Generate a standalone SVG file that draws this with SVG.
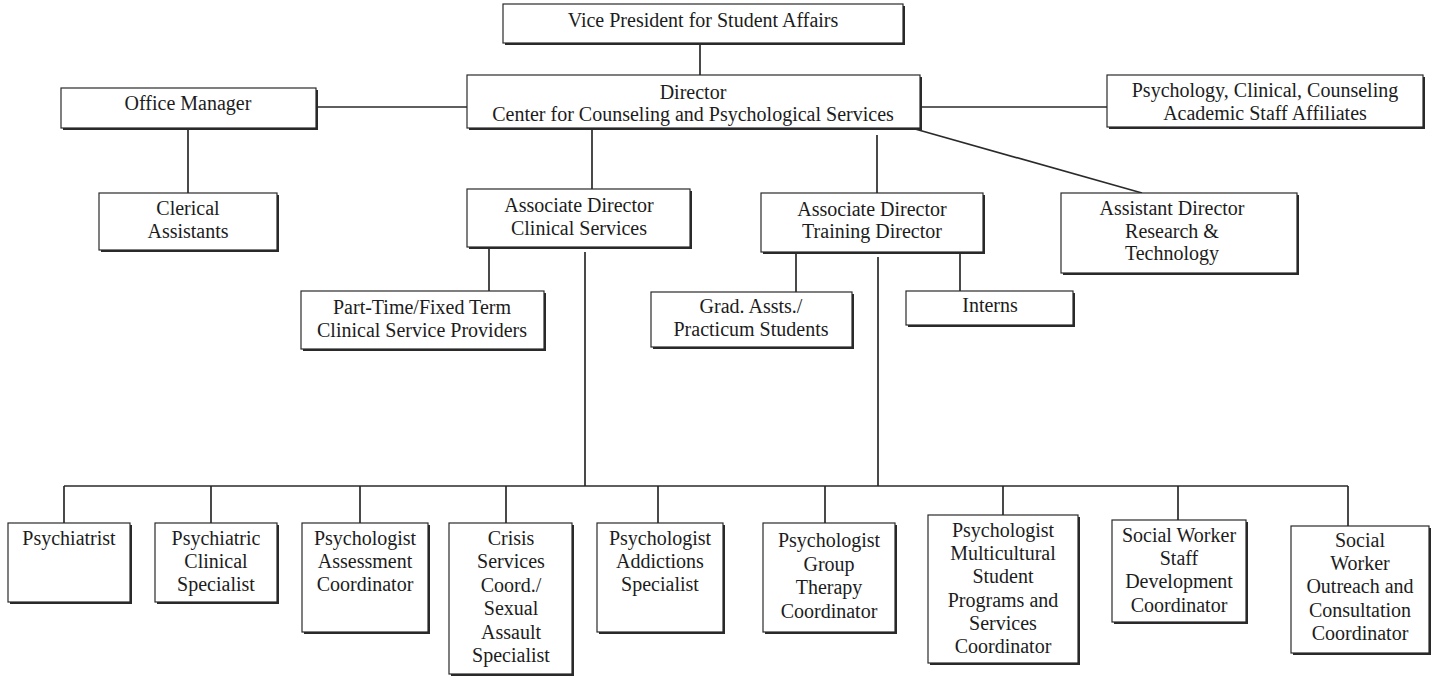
<svg xmlns="http://www.w3.org/2000/svg" width="1436" height="677" viewBox="0 0 1436 677" font-family="'Liberation Serif', 'DejaVu Serif', serif">
<style>
.bx{fill:#fff;stroke:#2a2a2a;stroke-width:1.2}
.sh{fill:#2a2a2a}
text{font-family:'Liberation Serif','DejaVu Serif',serif;font-size:20px;fill:#1c1c1c;text-anchor:middle}
.cn line{stroke:#2a2a2a;stroke-width:1.7;fill:none}
</style>
<rect width="1436" height="677" fill="#fff"/>
<g class="cn" id="connectors">
<line x1="700" y1="43" x2="700" y2="75"/>
<line x1="316" y1="107" x2="467" y2="107"/>
<line x1="920" y1="107" x2="1107" y2="107"/>
<line x1="188" y1="128" x2="188" y2="193"/>
<line x1="592" y1="128" x2="592" y2="189"/>
<line x1="877" y1="135" x2="877" y2="193"/>
<line x1="908" y1="127" x2="1142" y2="193"/>
<line x1="489" y1="247" x2="489" y2="291"/>
<line x1="796" y1="252" x2="796" y2="292"/>
<line x1="960" y1="252" x2="960" y2="291"/>
<line x1="585" y1="252" x2="585" y2="486"/>
<line x1="878" y1="257" x2="878" y2="486"/>
<line x1="64" y1="486" x2="1348" y2="486"/>
<line x1="64" y1="486" x2="64" y2="523"/>
<line x1="211" y1="486" x2="211" y2="523"/>
<line x1="360" y1="486" x2="360" y2="523"/>
<line x1="506" y1="486" x2="506" y2="523"/>
<line x1="658" y1="486" x2="658" y2="523"/>
<line x1="825" y1="486" x2="825" y2="523"/>
<line x1="1003" y1="486" x2="1003" y2="515"/>
<line x1="1178" y1="486" x2="1178" y2="520"/>
<line x1="1348" y1="486" x2="1348" y2="526"/>
</g>
<g id="vp"><rect class="sh" x="505" y="6" width="400" height="39"/><rect class="bx" x="503" y="4" width="400" height="39"/><text x="703" y="27">Vice President for Student Affairs</text></g>
<g id="director"><rect class="sh" x="469" y="77" width="453" height="53"/><rect class="bx" x="467" y="75" width="453" height="53"/><text x="693" y="99">Director</text><text x="693" y="121">Center for Counseling and Psychological Services</text></g>
<g id="office-manager"><rect class="sh" x="63" y="90" width="255" height="40"/><rect class="bx" x="61" y="88" width="255" height="40"/><text x="188" y="110">Office Manager</text></g>
<g id="affiliates"><rect class="sh" x="1109" y="77" width="316" height="52"/><rect class="bx" x="1107" y="75" width="316" height="52"/><text x="1265" y="97">Psychology, Clinical, Counseling</text><text x="1265" y="120">Academic Staff Affiliates</text></g>
<g id="clerical"><rect class="sh" x="101" y="195" width="178" height="57"/><rect class="bx" x="99" y="193" width="178" height="57"/><text x="188" y="215">Clerical</text><text x="188" y="238">Assistants</text></g>
<g id="assoc-clinical"><rect class="sh" x="469" y="191" width="223" height="58"/><rect class="bx" x="467" y="189" width="223" height="58"/><text x="579" y="212">Associate Director</text><text x="579" y="235">Clinical Services</text></g>
<g id="assoc-training"><rect class="sh" x="763" y="195" width="222" height="59"/><rect class="bx" x="761" y="193" width="222" height="59"/><text x="872" y="216">Associate Director</text><text x="872" y="238">Training Director</text></g>
<g id="asst-director"><rect class="sh" x="1063" y="195" width="236" height="80"/><rect class="bx" x="1061" y="193" width="236" height="80"/><text x="1172" y="215">Assistant Director</text><text x="1172" y="238">Research &amp;</text><text x="1172" y="260">Technology</text></g>
<g id="part-time"><rect class="sh" x="303" y="293" width="243" height="58"/><rect class="bx" x="301" y="291" width="243" height="58"/><text x="422" y="314">Part-Time/Fixed Term</text><text x="422" y="337">Clinical Service Providers</text></g>
<g id="grad"><rect class="sh" x="653" y="294" width="201" height="55"/><rect class="bx" x="651" y="292" width="201" height="55"/><text x="751" y="313">Grad. Assts./</text><text x="751" y="336">Practicum Students</text></g>
<g id="interns"><rect class="sh" x="908" y="293" width="167" height="34"/><rect class="bx" x="906" y="291" width="167" height="34"/><text x="990" y="312">Interns</text></g>
<g id="psychiatrist"><rect class="sh" x="10" y="525" width="122" height="79"/><rect class="bx" x="8" y="523" width="122" height="79"/><text x="69" y="545">Psychiatrist</text></g>
<g id="psychiatric-clinical"><rect class="sh" x="157" y="525" width="122" height="79"/><rect class="bx" x="155" y="523" width="122" height="79"/><text x="216" y="545">Psychiatric</text><text x="216" y="568">Clinical</text><text x="216" y="591">Specialist</text></g>
<g id="assessment"><rect class="sh" x="304" y="525" width="126" height="109"/><rect class="bx" x="302" y="523" width="126" height="109"/><text x="365" y="545">Psychologist</text><text x="365" y="568">Assessment</text><text x="365" y="591">Coordinator</text></g>
<g id="crisis"><rect class="sh" x="451" y="525" width="123" height="151"/><rect class="bx" x="449" y="523" width="123" height="151"/><text x="511" y="545">Crisis</text><text x="511" y="568">Services</text><text x="511" y="592">Coord./</text><text x="511" y="615">Sexual</text><text x="511" y="639">Assault</text><text x="511" y="662">Specialist</text></g>
<g id="addictions"><rect class="sh" x="599" y="525" width="126" height="109"/><rect class="bx" x="597" y="523" width="126" height="109"/><text x="660" y="545">Psychologist</text><text x="660" y="568">Addictions</text><text x="660" y="591">Specialist</text></g>
<g id="group-therapy"><rect class="sh" x="765" y="525" width="132" height="109"/><rect class="bx" x="763" y="523" width="132" height="109"/><text x="829" y="547">Psychologist</text><text x="829" y="571">Group</text><text x="829" y="594">Therapy</text><text x="829" y="618">Coordinator</text></g>
<g id="multicultural"><rect class="sh" x="930" y="517" width="150" height="148"/><rect class="bx" x="928" y="515" width="150" height="148"/><text x="1003" y="537">Psychologist</text><text x="1003" y="560">Multicultural</text><text x="1003" y="583">Student</text><text x="1003" y="607">Programs and</text><text x="1003" y="630">Services</text><text x="1003" y="653">Coordinator</text></g>
<g id="sw-staff"><rect class="sh" x="1114" y="522" width="134" height="102"/><rect class="bx" x="1112" y="520" width="134" height="102"/><text x="1179" y="542">Social Worker</text><text x="1179" y="565">Staff</text><text x="1179" y="588">Development</text><text x="1179" y="612">Coordinator</text></g>
<g id="sw-outreach"><rect class="sh" x="1293" y="528" width="138" height="127"/><rect class="bx" x="1291" y="526" width="138" height="127"/><text x="1360" y="547">Social</text><text x="1360" y="570">Worker</text><text x="1360" y="593">Outreach and</text><text x="1360" y="617">Consultation</text><text x="1360" y="640">Coordinator</text></g>
</svg>
